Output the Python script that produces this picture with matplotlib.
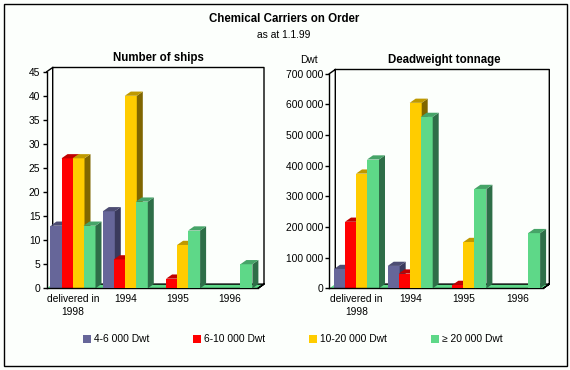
import matplotlib
matplotlib.use("Agg")
import matplotlib.pyplot as plt
from matplotlib.patches import Polygon, Rectangle

WIDTH, HEIGHT = 570, 370

group_labels = ["delivered in\n1998", "1994", "1995", "1996"]
series_names = ["4-6 000 Dwt", "6-10 000 Dwt", "10-20 000 Dwt", "≥ 20 000 Dwt"]

# one list per series, one value per group
ships_small = [13, 16, 0, 0]
ships_medium = [27, 6, 2, 0]
ships_large = [27, 40, 9, 0]
ships_xlarge = [13, 18, 12, 5]

dwt_small = [63000, 73000, 0, 0]
dwt_medium = [217000, 48000, 11000, 0]
dwt_large = [374000, 605000, 151000, 0]
dwt_xlarge = [420000, 559000, 324000, 180000]

ships_ticks = [0, 5, 10, 15, 20, 25, 30, 35, 40, 45]
dwt_ticks = [0, 100000, 200000, 300000, 400000, 500000, 600000, 700000]
dwt_tick_labels = ["0", "100 000", "200 000", "300 000", "400 000", "500 000", "600 000", "700 000"]

front_colors = ["#666699", "#ff0000", "#ffcc00", "#5ed888"]
side_colors = ["#3a3a5c", "#8c0000", "#806600", "#2e6e48"]
top_colors = ["#4d4d73", "#c00000", "#bf9900", "#46a468"]
BACKGROUND = "#fcfffc"

plt.rcParams["font.family"] = ["Liberation Sans", "DejaVu Sans"]
plt.rcParams["font.size"] = 7.4


def fig_x(px):
    return px / WIDTH


def fig_y(py):
    return 1 - py / HEIGHT


def draw_panel(fig, box, series, ticks, tick_labels, group_step, group_zero):
    """box is (left, right, top, bottom) of the front plane in picture pixels."""
    left, right, top, bottom = box
    ax = fig.add_axes([fig_x(left), fig_y(bottom), (right - left) / WIDTH, (bottom - top) / HEIGHT])
    ax.patch.set_visible(False)
    ymax = ticks[-1]
    ax.set_xlim((left - group_zero) / group_step, (right - group_zero) / group_step)
    ax.set_ylim(0, ymax)

    # depth of the fake 3D in data units
    depth_x = 6 / group_step
    depth_y = 4.2 * ymax / (bottom - top)
    x0, x1 = ax.get_xlim()

    # floor and back wall
    ax.add_patch(Polygon([(x0, 0), (x1, 0), (x1 + depth_x, depth_y), (x0 + depth_x, depth_y)],
                         facecolor=front_colors[3], edgecolor="none", clip_on=False, zorder=1))
    wall_x = [x0, x0 + depth_x, x1 + depth_x, x1 + depth_x, x1, x1 + depth_x, x0 + depth_x, x0 + depth_x]
    wall_y = [ymax, ymax + depth_y, ymax + depth_y, depth_y, 0, depth_y, depth_y, ymax + depth_y]
    ax.plot(wall_x, wall_y, color="black", lw=1, clip_on=False, zorder=1.5)

    bar_width = 12 / group_step
    bar_step = 11 / group_step
    for g in range(len(group_labels)):
        for s, values in enumerate(series):
            value = values[g]
            if value == 0:
                continue
            xl = g + (s - 2) * bar_step - 0.5 / group_step
            xr = xl + bar_width
            z = 2 + g + s * 0.1
            ax.bar(xl, value, width=bar_width, align="edge", color=front_colors[s], linewidth=0,
                   clip_on=False, zorder=z)
            ax.add_patch(Polygon([(xr, 0), (xr + depth_x, depth_y), (xr + depth_x, value + depth_y), (xr, value)],
                                 facecolor=side_colors[s], edgecolor="none", clip_on=False, zorder=z))
            ax.add_patch(Polygon([(xl, value), (xr, value), (xr + depth_x, value + depth_y), (xl + depth_x, value + depth_y)],
                                 facecolor=top_colors[s], edgecolor="none", clip_on=False, zorder=z))

    for name in ["top", "right"]:
        ax.spines[name].set_visible(False)
    ax.spines["left"].set_linewidth(1)
    ax.spines["bottom"].set_linewidth(1)
    ax.set_yticks(ticks, tick_labels)
    ax.set_xticks(range(len(group_labels)), group_labels, linespacing=1.35)
    ax.tick_params(axis="y", length=3, width=1, pad=1.5)
    ax.tick_params(axis="x", length=0, pad=4)
    return ax


fig = plt.figure(figsize=(WIDTH / 100, HEIGHT / 100), dpi=100, facecolor=BACKGROUND)
fig.add_artist(Rectangle((fig_x(3.5), fig_y(366)), 563 / WIDTH, 362.5 / HEIGHT, transform=fig.transFigure,
                         facecolor="none", edgecolor="black", linewidth=1))

draw_panel(fig, (46.7, 258, 71.7, 288.3), [ships_small, ships_medium, ships_large, ships_xlarge],
           ships_ticks, [str(t) for t in ships_ticks], 52.3, 73)
draw_panel(fig, (329.3, 543.3, 73.7, 288.3), [dwt_small, dwt_medium, dwt_large, dwt_xlarge],
           dwt_ticks, dwt_tick_labels, 53.7, 356.5)

fig.text(fig_x(284), fig_y(19), "Chemical Carriers on Order", ha="center", va="center", fontweight="bold", fontsize=8.3)
fig.text(fig_x(284), fig_y(35), "as at 1.1.99", ha="center", va="center")
fig.text(fig_x(158), fig_y(58), "Number of ships", ha="center", va="center", fontweight="bold", fontsize=8.3)
fig.text(fig_x(444), fig_y(60), "Deadweight tonnage", ha="center", va="center", fontweight="bold", fontsize=8.3)
fig.text(fig_x(309), fig_y(60), "Dwt", ha="center", va="center")

legend_x = [83, 193, 309, 431]
for px, name, color in zip(legend_x, series_names, front_colors):
    fig.add_artist(Rectangle((fig_x(px), fig_y(343)), 8 / WIDTH, 8 / HEIGHT, transform=fig.transFigure,
                             facecolor=color, edgecolor="none"))
    fig.text(fig_x(px + 11), fig_y(339), name, ha="left", va="center")

fig.savefig("out.png", dpi=100, facecolor=BACKGROUND)
